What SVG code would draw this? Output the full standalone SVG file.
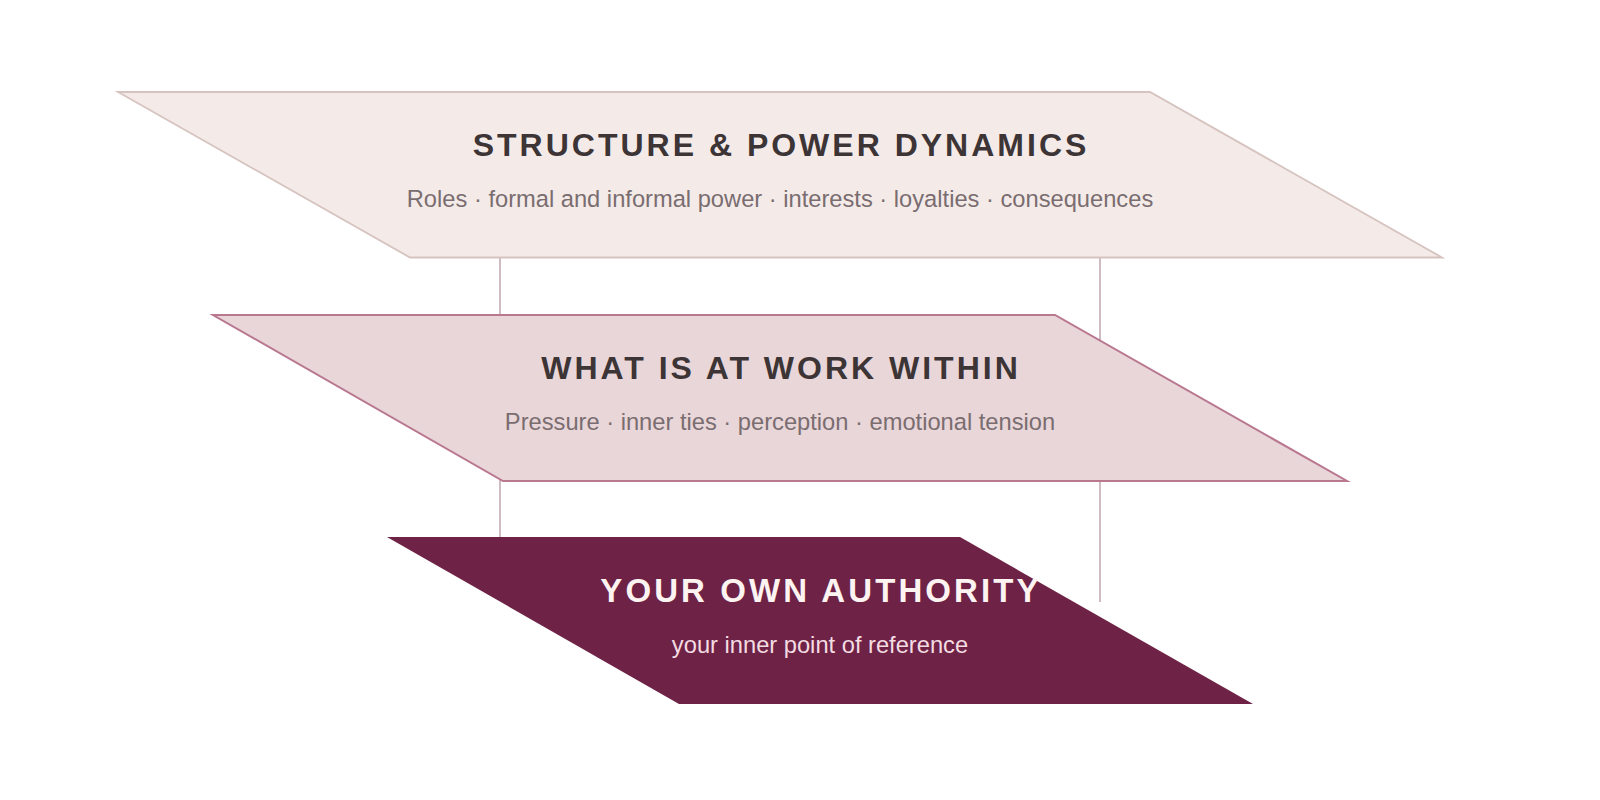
<svg xmlns="http://www.w3.org/2000/svg" width="1600" height="800" viewBox="0 0 1600 800">
<style>
.title{font-family:"Liberation Sans",Arial,sans-serif;font-weight:bold;font-size:32px;letter-spacing:3px;text-anchor:middle;fill:#3d3436}
.sub{font-family:"Liberation Sans",Arial,sans-serif;font-size:23.7px;text-anchor:middle;fill:#7a6d70}
.conn{stroke:#c3aab3;stroke-width:1.6;fill:none}
</style>
<rect width="1600" height="800" fill="#ffffff"/>
<g id="connectors">
<line class="conn" x1="500" y1="258" x2="500" y2="537"/>
<line class="conn" x1="1100" y1="258" x2="1100" y2="602"/>
</g>
<g id="structure">
<polygon points="118,92 1150,92 1442,257.5 410,257.5" fill="#f4ebe9" stroke="#d6c3bf" stroke-width="1.8"/>
<text class="title" x="781" y="156">STRUCTURE &amp; POWER DYNAMICS</text>
<text class="sub" x="780" y="207">Roles · formal and informal power · interests · loyalties · consequences</text>
</g>
<g id="within">
<polygon points="213,315 1055,315 1347,481 503,481" fill="#e9d6d9" stroke="#b97790" stroke-width="2"/>
<text class="title" x="781" y="379">WHAT IS AT WORK WITHIN</text>
<text class="sub" x="780" y="430">Pressure · inner ties · perception · emotional tension</text>
</g>
<g id="authority">
<polygon points="387,537 960,537 1253,704 679,704" fill="#6d2246"/>
<text class="title" x="821" y="602" style="fill:#fdf3f1;font-size:33px;letter-spacing:3.1px">YOUR OWN AUTHORITY</text>
<text class="sub" x="820" y="653" style="fill:#f4dce2">your inner point of reference</text>
</g>
</svg>
